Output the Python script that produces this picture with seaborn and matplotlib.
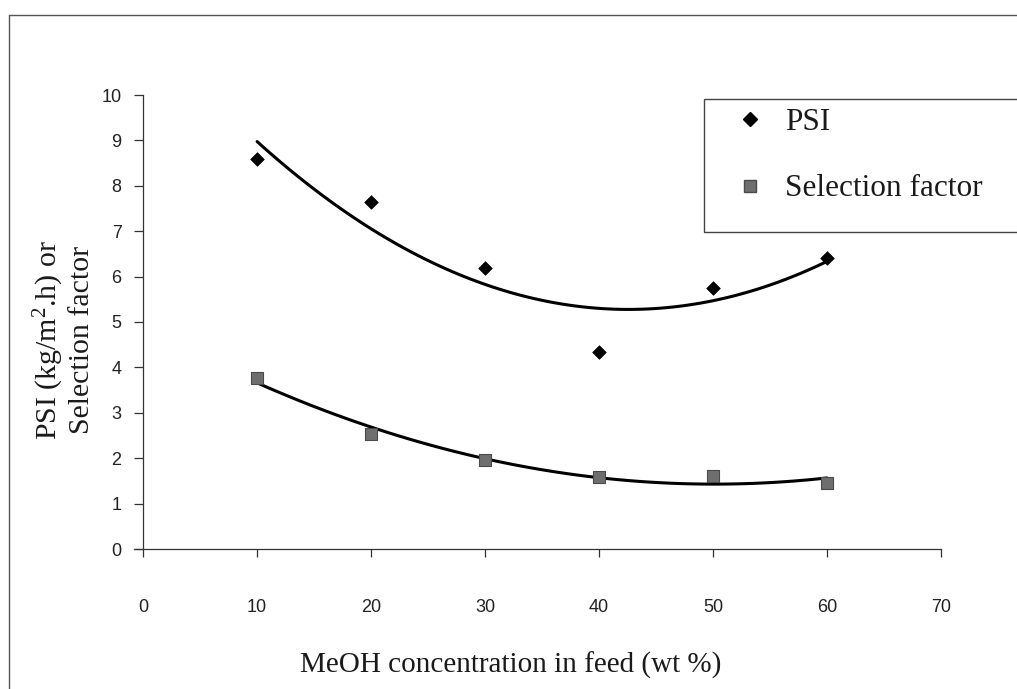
import numpy as np
import pandas as pd
import matplotlib
matplotlib.use("Agg")
import matplotlib.pyplot as plt
import seaborn as sns
from matplotlib.lines import Line2D
from matplotlib.patches import Rectangle

# MeOH content of the feed (wt %) and the two measured responses
meoh_wt = [10, 20, 30, 40, 50, 60]
psi_values = [8.6, 7.65, 6.2, 4.35, 5.74, 6.42]
selection_factor = [3.76, 2.53, 1.96, 1.59, 1.6, 1.46]

x_ticks = [0, 10, 20, 30, 40, 50, 60, 70]
y_ticks = [0, 1, 2, 3, 4, 5, 6, 7, 8, 9, 10]
series_names = ["PSI", "Selection factor"]

sns.set_theme(style="white")
plt.rcParams["font.family"] = ["Liberation Sans", "DejaVu Sans"]
plt.rcParams["mathtext.fontset"] = "custom"
plt.rcParams["mathtext.rm"] = "Liberation Serif"
plt.rcParams["mathtext.default"] = "regular"

SERIF = ["Liberation Serif", "DejaVu Serif"]
W, H = 1017, 689
fig = plt.figure(figsize=(W / 100, H / 100), dpi=100)
fig.patch.set_facecolor("white")

ax = fig.add_axes([134 / W, 140 / H, (941 - 134) / W, (549 - 95) / H])
ax.set_facecolor("white")

df = pd.DataFrame({"conc": meoh_wt, "psi": psi_values, "sel": selection_factor})

# second-order polynomial trend lines
sns.regplot(data=df, x="conc", y="psi", order=2, ci=None, scatter=False,
            color="black", line_kws=dict(lw=2.2), ax=ax)
sns.regplot(data=df, x="conc", y="sel", order=2, ci=None, scatter=False,
            color="black", line_kws=dict(lw=2.2), ax=ax)

# measured points
sns.scatterplot(data=df, x="conc", y="psi", marker="D", s=48, color="black",
                edgecolor="black", linewidth=0.5, ax=ax, zorder=3)
sns.scatterplot(data=df, x="conc", y="sel", marker="s", s=80, color="#6e6e6e",
                edgecolor="#4a4a4a", linewidth=0.8, ax=ax, zorder=3)

ax.set_xlim(-0.8, 70)
ax.set_ylim(0, 10)
ax.set_xticks(x_ticks)
ax.set_yticks(y_ticks)
ax.set_xlabel("")
ax.set_ylabel("")
for side in ["top", "right"]:
    ax.spines[side].set_visible(False)
ax.spines["left"].set_position(("data", 0))
for side in ["left", "bottom"]:
    ax.spines[side].set_color("#333333")
    ax.spines[side].set_linewidth(0.9)

ax.tick_params(axis="x", bottom=True, direction="out", length=6, width=0.9,
               color="#333333", pad=30, labelsize=13, labelcolor="#222222")
ax.tick_params(axis="y", left=True, direction="out", length=6.5, width=0.9,
               color="#333333", pad=9, labelsize=13, labelcolor="#222222")
ax.grid(False)

# axis titles
fig.text(511 / W, 1 - 665 / H, "MeOH concentration in feed (wt %)",
         ha="center", va="center", fontsize=21, family=SERIF, color="#1a1a1a")
fig.text(63 / W, 1 - 340 / H, "PSI (kg/m$^{2}$.h) or\nSelection factor",
         ha="center", va="center", rotation=90, multialignment="center",
         fontsize=21.5, family=SERIF, color="#1a1a1a", linespacing=1.15)

# legend
handles = [
    Line2D([], [], marker="D", linestyle="none", markersize=7, color="black"),
    Line2D([], [], marker="s", linestyle="none", markersize=9,
           markerfacecolor="#6e6e6e", markeredgecolor="#4a4a4a"),
]
fig.legend(handles, series_names, loc="upper left",
           bbox_to_anchor=(737 / W, 1 - 108 / H), frameon=False,
           prop=dict(family=SERIF, size=22.5), handlelength=0.8,
           handletextpad=0.75, labelspacing=1.2, borderpad=0, borderaxespad=0,
           labelcolor="#1a1a1a")
fig.add_artist(Rectangle((704 / W, 1 - 232 / H), 0.5, (232 - 99) / H,
                         transform=fig.transFigure, fill=False,
                         edgecolor="#444444", linewidth=1.0))

# outer chart-area border
fig.add_artist(Line2D([9 / W, 1.0], [1 - 15 / H, 1 - 15 / H],
                      transform=fig.transFigure, color="#555555", lw=1.0))
fig.add_artist(Line2D([9 / W, 9 / W], [0.0, 1 - 15 / H],
                      transform=fig.transFigure, color="#555555", lw=1.0))

fig.savefig("out.png", dpi=100, facecolor="white")
